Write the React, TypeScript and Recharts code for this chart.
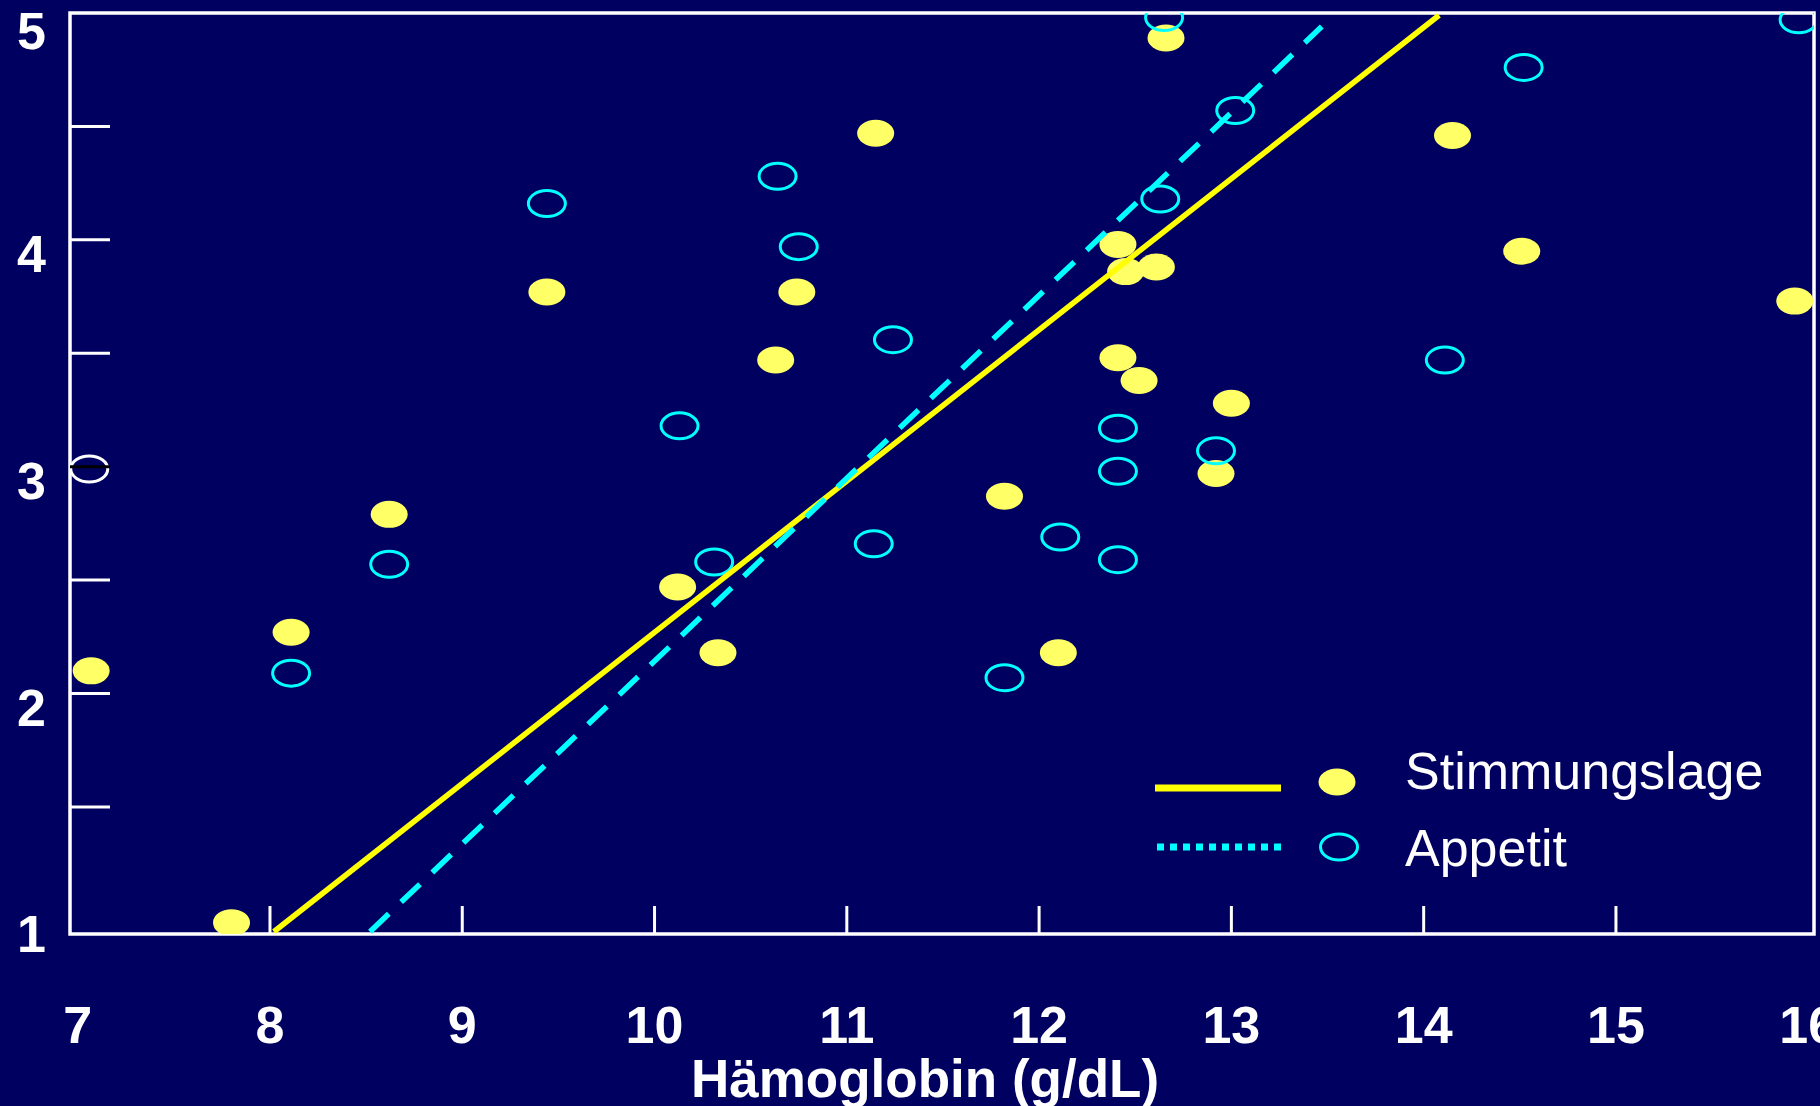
import React from 'react';
import { ScatterChart, Scatter, XAxis, YAxis, ReferenceArea, Legend } from 'recharts';

const FONT = '"Liberation Sans", Arial, Helvetica, sans-serif';
const BG = '#000060';

// Hämoglobin (g/dL) vs. Stimmungslage
const hbMood = [7.07, 7.8, 8.11, 8.62, 9.44, 10.12, 10.33, 10.63, 10.74, 11.15, 11.82, 12.1, 12.41, 12.45, 12.61, 12.41, 12.52, 12.66, 13.0, 12.92, 14.15, 14.51, 15.93];
const moodScores = [2.1, 0.99, 2.27, 2.79, 3.77, 2.47, 2.18, 3.47, 3.77, 4.47, 2.87, 2.18, 3.98, 3.86, 3.88, 3.48, 3.38, 4.89, 3.28, 2.97, 4.46, 3.95, 3.73];

// Hämoglobin (g/dL) vs. Appetit
const hbAppetite = [8.11, 8.62, 9.44, 10.13, 10.31, 10.64, 10.75, 11.14, 11.24, 11.82, 12.11, 12.41, 12.41, 12.41, 12.63, 12.65, 12.92, 13.02, 14.11, 14.52, 15.95];
const appetiteScores = [2.09, 2.57, 4.16, 3.18, 2.58, 4.28, 3.97, 2.66, 3.56, 2.07, 2.69, 3.17, 2.98, 2.59, 4.18, 4.98, 3.07, 4.57, 3.47, 4.76, 4.97];

// the lone white circle on the y axis
const strayHb = [7.06];
const strayScore = [2.99];

// regression lines (end points)
const moodFitHb = [8.02, 14.08];
const moodFitScore = [0.95, 4.99];
const appetiteFitHb = [8.52, 13.47];
const appetiteFitScore = [0.95, 4.94];

const xTicks = [7, 8, 9, 10, 11, 12, 13, 14, 15, 16];
const yTicks = [1, 1.5, 2, 2.5, 3, 3.5, 4, 4.5, 5];
const xDomain = [6.96, 16.03];
const yDomain = [0.94, 5.0];

const toPoints = (xs: number[], ys: number[]) => xs.map((x, i) => ({ x, y: ys[i] }));

const moodData = toPoints(hbMood, moodScores);
const appetiteData = toPoints(hbAppetite, appetiteScores);
const strayData = toPoints(strayHb, strayScore);
const moodFit = toPoints(moodFitHb, moodFitScore);
const appetiteFit = toPoints(appetiteFitHb, appetiteFitScore);

function FilledDot(props: any) {
  const { cx, cy } = props;
  return <ellipse cx={cx} cy={cy} rx={18.5} ry={13.5} fill="#FFFF66" />;
}

function OpenDot(props: any) {
  const { cx, cy } = props;
  return <ellipse cx={cx} cy={cy} rx={18.5} ry={13} fill="none" stroke="#00FFFF" strokeWidth={3} />;
}

function WhiteDot(props: any) {
  const { cx, cy } = props;
  return <ellipse cx={cx} cy={cy} rx={18.5} ry={13} fill="none" stroke="#FFFFFF" strokeWidth={3} />;
}

const NoDot = () => <g />;

function XTick(props: any) {
  const { x, y, payload } = props;
  const v = payload.value;
  const inner = v !== 7 && v !== 16;
  return (
    <g>
      {inner && <line x1={x} x2={x} y1={y} y2={y - 28} stroke="#fff" strokeWidth={3} />}
      <text x={x} y={y + 109} textAnchor="middle" fill="#fff" fontSize={52} fontWeight="bold" fontFamily={FONT}>
        {v}
      </text>
    </g>
  );
}

function YTick(props: any) {
  const { x, y, payload } = props;
  const v = payload.value;
  const inner = v > 1 && v < 5;
  // the top label sits a little lower so it stays inside the page
  const dy = v === 5 ? 36 : 32;
  return (
    <g>
      {inner && <line x1={x} x2={x + 40} y1={y} y2={y} stroke={v === 3 ? '#000' : '#fff'} strokeWidth={3} />}
      {Number.isInteger(v) && (
        <text x={x - 24} y={y + dy} textAnchor="end" fill="#fff" fontSize={52} fontWeight="bold" fontFamily={FONT}>
          {v}
        </text>
      )}
    </g>
  );
}

function XTitle(props: any) {
  const { viewBox } = props;
  return (
    <text
      x={viewBox.x + viewBox.width / 2 - 17}
      y={viewBox.y + 163}
      textAnchor="middle"
      fill="#fff"
      fontSize={53}
      fontWeight="bold"
      fontFamily={FONT}
    >
      Hämoglobin (g/dL)
    </text>
  );
}

function LegendBox() {
  return (
    <svg width={660} height={150} style={{ display: 'block' }}>
      <line x1={15} x2={141} y1={48} y2={48} stroke="#FFFF00" strokeWidth={7} />
      <ellipse cx={197} cy={42} rx={18.5} ry={13.5} fill="#FFFF66" />
      <text x={265} y={49} fill="#fff" fontSize={52} fontFamily={FONT}>
        Stimmungslage
      </text>
      <line x1={17} x2={143} y1={107} y2={107} stroke="#00FFFF" strokeWidth={7} strokeDasharray="7 6" />
      <ellipse cx={199} cy={107} rx={18.5} ry={13} fill="none" stroke="#00FFFF" strokeWidth={3} />
      <text x={265} y={126} fill="#fff" fontSize={52} fontFamily={FONT}>
        Appetit
      </text>
    </svg>
  );
}

export default function App() {
  return (
    <div style={{ position: 'absolute', left: 0, top: 0, width: 1820, height: 1106, background: BG, overflow: 'hidden' }}>
      <ScatterChart width={1820} height={1106} margin={{ top: 13, right: 6, bottom: 0, left: 0 }}>
        <ReferenceArea
          x1={xDomain[0]}
          x2={xDomain[1]}
          y1={yDomain[0]}
          y2={yDomain[1]}
          fill="none"
          stroke="#fff"
          strokeWidth={3.5}
          fillOpacity={0}
        />
        <XAxis
          type="number"
          dataKey="x"
          domain={xDomain}
          ticks={xTicks}
          interval={0}
          allowDataOverflow
          height={172}
          axisLine={false}
          tickLine={false}
          tickSize={0}
          tickMargin={0}
          tick={<XTick />}
          label={{ content: <XTitle /> }}
        />
        <YAxis
          type="number"
          dataKey="y"
          domain={yDomain}
          ticks={yTicks}
          interval={0}
          allowDataOverflow
          width={70}
          axisLine={false}
          tickLine={false}
          tickSize={0}
          tickMargin={0}
          tick={<YTick />}
        />
        <Scatter name="Stimmungslage" data={moodData} shape={<FilledDot />} isAnimationActive={false} />
        <Scatter name="Appetit" data={appetiteData} shape={<OpenDot />} isAnimationActive={false} />
        <Scatter name="stray" data={strayData} shape={<WhiteDot />} isAnimationActive={false} legendType="none" />
        <Scatter
          name="Stimmungslage fit"
          data={moodFit}
          shape={NoDot}
          line={{ stroke: '#FFFF00', strokeWidth: 5.5 }}
          lineType="joint"
          isAnimationActive={false}
          legendType="none"
        />
        <Scatter
          name="Appetit fit"
          data={appetiteFit}
          shape={NoDot}
          line={{ stroke: '#00FFFF', strokeWidth: 5.5, strokeDasharray: '26 17' }}
          lineType="joint"
          isAnimationActive={false}
          legendType="none"
        />
        <Legend
          layout="horizontal"
          verticalAlign="middle"
          align="center"
          content={<LegendBox />}
          wrapperStyle={{ left: 1140, top: 740, width: 660, height: 150 }}
        />
      </ScatterChart>
    </div>
  );
}
